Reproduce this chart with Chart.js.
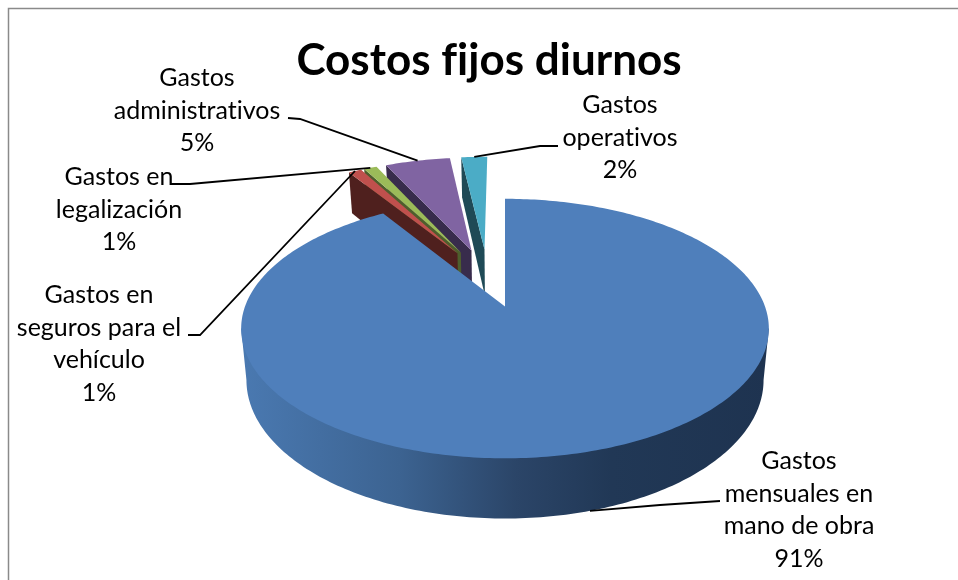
<!DOCTYPE html>
<html>
<head>
<meta charset="utf-8">
<style>
  html, body { margin: 0; padding: 0; background: #fff; overflow: hidden; }
  #chart { display: block; }
</style>
<script src="https://cdn.jsdelivr.net/npm/chart.js@4"></script>
</head>
<body>
<canvas id="chart" width="958" height="580" style="width:958px;height:580px"></canvas>
<script>
const categories = [
  ['Gastos', 'mensuales en', 'mano de obra'],
  ['Gastos en', 'seguros para el', 'vehículo'],
  ['Gastos en', 'legalización'],
  ['Gastos', 'administrativos'],
  ['Gastos', 'operativos']
];
const costShare = [91, 1, 1, 5, 2];
const topColors = ['#4f7fbb', '#c0504d', '#9bbb59', '#8064a2', '#4bacc6'];
const wallColors = ['#2f4d73', '#4f201e', '#4e5e2c', '#382c4c', '#1f4a56'];
const chartTitle = 'Costos fijos diurnos';

// Label centres and the elbow of each leader line, in canvas pixels.
const labelCenters = [[799, 461], [99, 295], [119, 177], [197, 78], [620, 105]];
const labelElbows = [[[720, 501], [660, 505]], [[188, 335], [200, 335]], [[170, 184], [190, 184]], [[288, 118], [300, 119]], [[558, 146], [540, 146]]];

// Perspective disc: a point (u, v) on the unit disc, with v toward the viewer.
const ORIGIN_X = 505, ORIGIN_Y = 306.5;
const SCALE_X = 260, SCALE_Y = 126, PERSPECTIVE = 0.17;
const DEPTH = 50, DEPTH_SHRINK = 0.98;
const EXPLODE = 0.25;
const EXPLODED_REF = 0; // index of the slice whose apex sits at the origin

function project(u, v, drop) {
  const w = 1 - PERSPECTIVE * v;
  const sx = drop ? SCALE_X * DEPTH_SHRINK : SCALE_X;
  return [ORIGIN_X + sx * u / w, ORIGIN_Y + SCALE_Y * v / w + (drop ? DEPTH / w : 0)];
}
function clockAngle(a) { return a + Math.PI / 2; }
function sliceGeometry(arcs, i) {
  const a0 = clockAngle(arcs[i].startAngle), a1 = clockAngle(arcs[i].endAngle);
  const mid = (a0 + a1) / 2;
  const ref = arcs[EXPLODED_REF];
  const refMid = clockAngle((ref.startAngle + ref.endAngle) / 2);
  const du = EXPLODE * (Math.sin(mid) - Math.sin(refMid));
  const dv = EXPLODE * (-Math.cos(mid) + Math.cos(refMid));
  const rim = (t) => [du + Math.sin(t), dv - Math.cos(t)];
  return { a0, a1, mid, du, dv, rim };
}
function tracePoints(ctx, pts) {
  ctx.beginPath();
  pts.forEach((p, k) => k ? ctx.lineTo(p[0], p[1]) : ctx.moveTo(p[0], p[1]));
  ctx.closePath();
}
function rimPoints(g, from, to, drop) {
  const n = Math.max(8, Math.ceil(Math.abs(to - from) * 60));
  const pts = [];
  for (let k = 0; k <= n; k++) {
    const [u, v] = g.rim(from + (to - from) * k / n);
    pts.push(project(u, v, drop));
  }
  return pts;
}

const pie3d = {
  id: 'pie3d',
  beforeDraw(chart) {
    const ctx = chart.ctx;
    // A tiny tracking value keeps f+i and t+i as separate glyphs.
    ctx.letterSpacing = '0.01px';
    ctx.save();
    ctx.fillStyle = '#ffffff';
    ctx.fillRect(0, 0, chart.width, chart.height);
    ctx.strokeStyle = '#8a8a8a';
    ctx.lineWidth = 1.5;
    ctx.beginPath();
    ctx.moveTo(8.5, chart.height + 2);
    ctx.lineTo(8.5, 8.5);
    ctx.lineTo(chart.width + 2, 8.5);
    ctx.stroke();
    ctx.restore();
  },
  // The library lays out the slice angles; they are drawn here on a tilted disc.
  beforeDatasetDraw(chart) {
    const ctx = chart.ctx;
    const arcs = chart.getDatasetMeta(0).data;
    ctx.save();
    // Small slices first, right to left, then the large slice in front.
    for (let i = arcs.length - 1; i >= 1; i--) {
      const g = sliceGeometry(arcs, i);
      const apexTop = project(g.du, g.dv, false);
      const apexLow = project(g.du, g.dv, true);
      const [u0, v0] = g.rim(g.a0);
      ctx.fillStyle = wallColors[i];
      tracePoints(ctx, [apexTop, project(u0, v0, false), project(u0, v0, true), apexLow]);
      ctx.fill();
      ctx.fillStyle = topColors[i];
      tracePoints(ctx, [apexTop].concat(rimPoints(g, g.a0, g.a1, false)));
      ctx.fill();
    }
    const g = sliceGeometry(arcs, 0);
    const side = ctx.createLinearGradient(241, 0, 770, 0);
    side.addColorStop(0, '#4a79b1');
    side.addColorStop(0.3, '#3c6391');
    side.addColorStop(0.52, '#2b4568');
    side.addColorStop(0.7, '#213856');
    side.addColorStop(1, '#1e3350');
    // Wall spans the near half of the rim, between its two widest points.
    const widest = Math.asin(PERSPECTIVE);
    const from = Math.PI / 2 + widest, to = 3 * Math.PI / 2 - widest;
    ctx.fillStyle = side;
    // The wall's upper side runs under the top face, which leaves no seam.
    tracePoints(ctx, [project(...g.rim(from), false)].concat(rimPoints(g, from, to, true), [project(...g.rim(to), false)]));
    ctx.fill();
    ctx.fillStyle = topColors[0];
    tracePoints(ctx, [project(g.du, g.dv, false)].concat(rimPoints(g, g.a0, g.a1, false)));
    ctx.fill();
    ctx.restore();
    return false;
  },
  afterDatasetsDraw(chart) {
    const ctx = chart.ctx;
    const arcs = chart.getDatasetMeta(0).data;
    const total = costShare.reduce((s, x) => s + x, 0);
    ctx.save();
    ctx.strokeStyle = '#000';
    ctx.lineWidth = 1.8;
    arcs.forEach((arc, i) => {
      const g = sliceGeometry(arcs, i);
      const [u, v] = g.rim(g.mid);
      const end = project(u, v, i === 0);
      ctx.beginPath();
      ctx.moveTo(labelElbows[i][0][0], labelElbows[i][0][1]);
      ctx.lineTo(labelElbows[i][1][0], labelElbows[i][1][1]);
      ctx.lineTo(end[0], end[1]);
      ctx.stroke();
      ctx.fillStyle = '#000';
      ctx.font = '25px Lato, Carlito, sans-serif';
      ctx.textAlign = 'center';
      ctx.textBaseline = 'middle';
      const lines = categories[i].concat(Math.round(costShare[i] / total * 100) + '%');
      lines.forEach((t, k) => ctx.fillText(t, labelCenters[i][0], labelCenters[i][1] + k * 32.7));
    });
    ctx.restore();
  }
};

new Chart(document.getElementById('chart'), {
  type: 'pie',
  data: {
    labels: categories,
    datasets: [{ data: costShare, backgroundColor: topColors, borderWidth: 0 }]
  },
  options: {
    responsive: false,
    animation: false,
    devicePixelRatio: 1,
    layout: { padding: { left: 20 } },
    plugins: {
      legend: { display: false },
      tooltip: { enabled: false },
      title: {
        display: true,
        text: chartTitle,
        color: '#000',
        font: { family: 'Lato, Carlito, sans-serif', size: 44, weight: 'bold' },
        padding: { top: 34, bottom: 10 }
      }
    }
  },
  plugins: [pie3d]
});
</script>
</body>
</html>
